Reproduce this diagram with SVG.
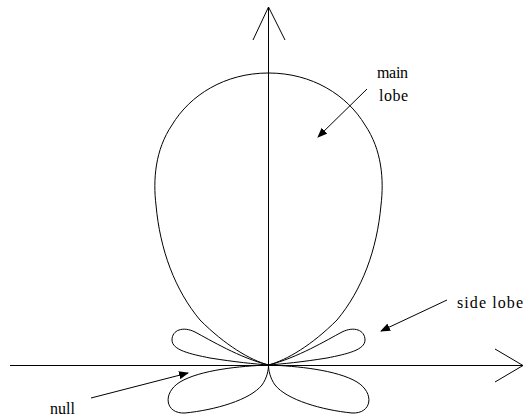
<svg xmlns="http://www.w3.org/2000/svg" width="524" height="419" viewBox="0 0 524 419">
<style>
.ln{fill:none;stroke:#000;stroke-width:1}
.lb{font-size:16px;fill:#000}
</style>
<defs>
<marker id="ah" markerWidth="10" markerHeight="8" refX="9" refY="4" orient="auto" markerUnits="userSpaceOnUse">
<path d="M0,0 L10,4 L0,8 Z" fill="#000"/>
</marker>
</defs>
<rect width="524" height="419" fill="#fff"/>
<g id="axes">
<line class="ln" x1="268.5" y1="7" x2="268.5" y2="365"/>
<polyline class="ln" points="253,40 268.5,7 285,40"/>
<line class="ln" x1="10" y1="365.5" x2="523" y2="365.5"/>
<polyline class="ln" points="495,349 523,365.5 495,382"/>
</g>
<g id="main-lobe">
<path class="ln" d="M268.5,73 C225,73 190,95 172,125 C155,150 153,180 156,205 C160,250 175,290 200,320 C225,345 250,360 268.5,365 C287,360 312,345 337,320 C362,290 377,250 381,205 C384,180 382,150 365,125 C347,95 312,73 268.5,73 Z"/>
</g>
<g id="side-lobes">
<path class="ln" d="M268.5,365 C240,358 210,340 195,332 C183,326 172,330 172,340 C172,350 190,354 210,358 C235,362 255,364 268.5,365 Z"/>
<path class="ln" transform="matrix(-1 0 0 1 537 0)" d="M268.5,365 C240,358 210,340 195,332 C183,326 172,330 172,340 C172,350 190,354 210,358 C235,362 255,364 268.5,365 Z"/>
<path class="ln" d="M268.5,365 C240,366 200,370 180,382 C162,393 165,414 185,413 C215,410 250,400 262,385 C267,378 268.5,370 268.5,365 Z"/>
<path class="ln" transform="matrix(-1 0 0 1 537 0)" d="M268.5,365 C240,366 200,370 180,382 C162,393 165,414 185,413 C215,410 250,400 262,385 C267,378 268.5,370 268.5,365 Z"/>
</g>
<g id="connectors">
<line class="ln" x1="367" y1="89" x2="318" y2="137" marker-end="url(#ah)"/>
<line class="ln" x1="447" y1="300" x2="381" y2="331" marker-end="url(#ah)"/>
<line class="ln" x1="91" y1="398" x2="188" y2="373" marker-end="url(#ah)"/>
</g>
<g id="labels" font-family="Liberation Serif, Times New Roman, serif">
<text class="lb" x="377" y="78" textLength="31">main</text>
<text class="lb" x="379" y="101" textLength="29">lobe</text>
<text class="lb" x="457" y="308" textLength="66">side lobe</text>
<text class="lb" x="50" y="414" textLength="25">null</text>
</g>
</svg>
